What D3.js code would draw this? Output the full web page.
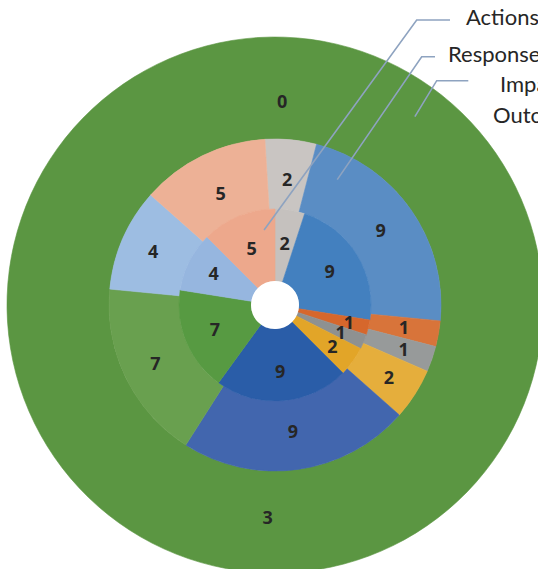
<!DOCTYPE html>
<html>
<head>
<meta charset="utf-8">
<script src="https://cdn.jsdelivr.net/npm/d3@7"></script>
<style>
  html, body { margin: 0; padding: 0; background: #ffffff; overflow: hidden; }
  svg { display: block; }
</style>
</head>
<body>
<svg id="chart" width="538" height="569"></svg>
<script>
// ---- data ----
const categories      = ["C1", "C2", "C3", "C4", "C5", "C6", "C7", "C8", "C9"];
const actionsValues   = [2, 9, 1, 1, 2, 9, 7, 4, 5];
const responsesValues = [2, 9, 1, 1, 2, 9, 7, 4, 5];
const impactValues    = [0, 3];
const seriesNames     = ["Actions", "Responses", "Impact", "Outcomes"];

// ---- colours per ring ----
const actionsColors   = ["#c5c1be", "#4380bf", "#d6672c", "#8e9191", "#e2a528",
                         "#2a5da8", "#579a42", "#96b6df", "#eda88c"];
const responsesColors = ["#c9c5c2", "#5a8dc4", "#d8743a", "#979a9a", "#e5ae3c",
                         "#4266ae", "#69a04f", "#9dbde2", "#edb196"];
const impactColors    = ["#5b9642", "#5b9642"];

// ---- layout ----
const W = 538, H = 569;
const cx = 275, cy = 305;
const deg = Math.PI / 180;

// ring boundaries: hole | Actions | Responses | Impact
const ringEdge = d3.scaleLinear().domain([0, 1, 2, 3]).range([24, 96, 166, 268]);

// label distance from the centre, per slice (keeps the thin slices' labels apart)
const actionsLabelR   = [62, 64, 76, 71, 71, 67, 65, 69, 61];
const responsesLabelR = [126, 129, 131, 136, 135, 128, 133, 133, 124];
const impactLabelR    = [204, 213];

const rings = [
  { name: "Impact",    values: impactValues,    colors: impactColors,    level: 2, start: 2,    labelR: impactLabelR },
  { name: "Responses", values: responsesValues, colors: responsesColors, level: 1, start: -3.5, labelR: responsesLabelR },
  { name: "Actions",   values: actionsValues,   colors: actionsColors,   level: 0, start: 0,    labelR: actionsLabelR }
];

// series-name callouts with leader lines (anchor given in polar terms on its ring)
const callouts = [
  { name: "Actions",   anchorAngle: -8.3, anchorR: 75.8,  elbow: [416.7, 20],   tail: 450,   tx: 466, ty: 25 },
  { name: "Responses", anchorAngle: 26.4, anchorR: 140,   elbow: [421.7, 56.7], tail: 435,   tx: 448, ty: 61.5 },
  { name: "Impact",    anchorAngle: 36.6, anchorR: 234.6, elbow: [436.7, 80.7], tail: 468.3, tx: 500, ty: 92 },
  { name: "Outcomes",  anchorAngle: null, tx: 493, ty: 122.5 }
];

const svg = d3.select("#chart");
const g = svg.append("g").attr("transform", `translate(${cx},${cy})`);

rings.forEach(ring => {
  const a0 = ring.start * deg;
  const pie = d3.pie().sort(null).value(d => d).startAngle(a0).endAngle(a0 + 2 * Math.PI);
  const arcs = pie(ring.values);
  const arc = d3.arc().innerRadius(ringEdge(ring.level)).outerRadius(ringEdge(ring.level + 1));

  const rg = g.append("g").attr("class", "ring-" + ring.name);
  rg.selectAll("path")
    .data(arcs.filter(d => d.value > 0))
    .join("path")
    .attr("d", arc)
    .attr("fill", d => ring.colors[d.index])
    .attr("stroke", d => ring.colors[d.index])
    .attr("stroke-width", 0.6);

  rg.selectAll("text")
    .data(arcs)
    .join("text")
    .attr("transform", d => {
      const r = ring.labelR[d.index];
      return `translate(${d3.arc().innerRadius(r).outerRadius(r).centroid(d)})`;
    })
    .attr("text-anchor", "middle")
    .attr("dy", "0.36em")
    .attr("font-family", "'Open Sans', Lato, sans-serif")
    .attr("font-weight", 700)
    .attr("font-size", 18)
    .attr("fill", "#262626")
    .text(d => d.value);
});

// centre hole
g.append("circle").attr("r", ringEdge(0)).attr("fill", "#ffffff");

// callouts
const cg = svg.append("g").attr("class", "callouts");
callouts.forEach(c => {
  if (c.anchorAngle !== null) {
    const ax = cx + c.anchorR * Math.sin(c.anchorAngle * deg);
    const ay = cy - c.anchorR * Math.cos(c.anchorAngle * deg);
    cg.append("path")
      .attr("d", d3.line()([[c.tail, c.elbow[1]], c.elbow, [ax, ay]]))
      .attr("fill", "none")
      .attr("stroke", "#8ea3c0")
      .attr("stroke-width", 1.6);
  }
  cg.append("text")
    .attr("x", c.tx)
    .attr("y", c.ty)
    .attr("font-family", "Lato, 'Open Sans', sans-serif")
    .attr("font-size", 22)
    .attr("fill", "#262626")
    .text(c.name);
});
</script>
</body>
</html>
